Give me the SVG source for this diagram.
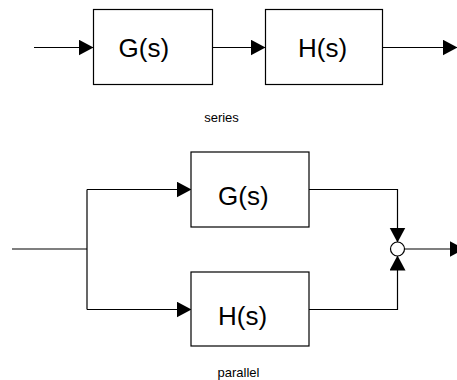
<svg xmlns="http://www.w3.org/2000/svg" width="457" height="380" viewBox="0 0 457 380">
<defs>
<style>
.box{fill:#fff;stroke:#000;stroke-width:1.2}
.ln{fill:none;stroke:#000;stroke-width:1.2}
.big{font-family:"Liberation Sans",Arial,sans-serif;font-size:26px;fill:#000}
.small{font-family:"Liberation Sans",Arial,sans-serif;font-size:13px;fill:#000;text-anchor:middle}
</style>
<marker id="arr" markerUnits="userSpaceOnUse" markerWidth="15" markerHeight="17" refX="14.5" refY="8" orient="auto">
<path d="M0,0 L15,8 L0,16 Z" fill="#000"/>
</marker>
</defs>
<rect width="457" height="380" fill="#fff"/>
<g id="connectors">
<path class="ln" d="M34,47.5 H93" marker-end="url(#arr)"/>
<path class="ln" d="M213,47.5 H265" marker-end="url(#arr)"/>
<path class="ln" d="M383,47.5 H457" marker-end="url(#arr)"/>
<path class="ln" d="M12,249 H87"/>
<path class="ln" d="M87,189.5 V309.5"/>
<path class="ln" d="M87,189.5 H191" marker-end="url(#arr)"/>
<path class="ln" d="M87,309.5 H191" marker-end="url(#arr)"/>
<path class="ln" d="M309,189.5 H397.5 V242" marker-end="url(#arr)"/>
<path class="ln" d="M309,309.5 H397.5 V256" marker-end="url(#arr)"/>
<path class="ln" d="M404.5,249 H464" marker-end="url(#arr)"/>
</g>
<g id="series-G">
<rect class="box" x="93.5" y="9.5" width="119" height="75"/>
<text class="big" x="118.5" y="57">G(s)</text>
</g>
<g id="series-H">
<rect class="box" x="265.5" y="9.5" width="117" height="75"/>
<text class="big" x="298" y="57">H(s)</text>
</g>
<text class="small" x="221.5" y="122">series</text>
<g id="parallel-G">
<rect class="box" x="191" y="152" width="118" height="75"/>
<text class="big" x="218" y="205">G(s)</text>
</g>
<g id="parallel-H">
<rect class="box" x="191" y="272" width="118" height="74"/>
<text class="big" x="218" y="325">H(s)</text>
</g>
<g id="sum">
<circle cx="397.5" cy="249" r="7" fill="#fff" stroke="#000" stroke-width="1.2"/>
</g>
<text class="small" x="238.5" y="377">parallel</text>
</svg>
